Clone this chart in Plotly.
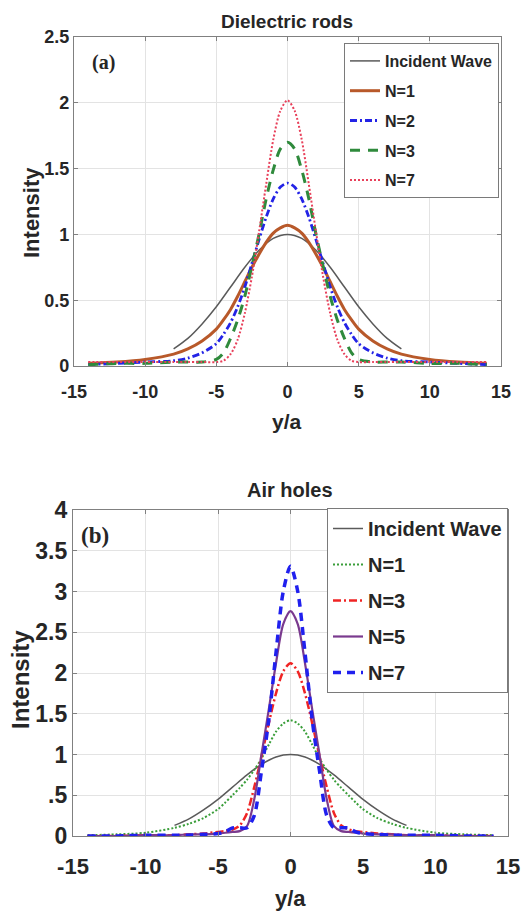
import plotly.graph_objects as go

# ---------------- data ----------------
x_inc = [-8, -7, -6, -5, -4, -3, -2, -1, 0, 1, 2, 3, 4, 5, 6, 7, 8]
inc = [0.13, 0.21, 0.32, 0.45, 0.60, 0.75, 0.88, 0.97, 1.00, 0.97, 0.88, 0.75, 0.60, 0.45, 0.32, 0.21, 0.13]

x_n = [-14, -12, -10, -8, -7, -6, -5, -4.5, -4, -3.5, -3, -2.5, -2, -1.5, -1, -0.5, 0,
       0.5, 1, 1.5, 2, 2.5, 3, 3.5, 4, 4.5, 5, 6, 7, 8, 10, 12, 14]

# (a) Dielectric rods
rod_n1 = [0.02, 0.03, 0.05, 0.09, 0.13, 0.19, 0.28, 0.35, 0.43, 0.53, 0.64, 0.75, 0.85, 0.94, 1.01, 1.05, 1.07,
          1.05, 1.01, 0.94, 0.85, 0.75, 0.64, 0.53, 0.43, 0.35, 0.28, 0.19, 0.13, 0.09, 0.05, 0.03, 0.02]
rod_n2 = [0.01, 0.02, 0.03, 0.04, 0.06, 0.10, 0.17, 0.24, 0.33, 0.45, 0.60, 0.78, 0.96, 1.13, 1.27, 1.36, 1.39,
          1.36, 1.27, 1.13, 0.96, 0.78, 0.60, 0.45, 0.33, 0.24, 0.17, 0.10, 0.06, 0.04, 0.03, 0.02, 0.01]
rod_n3 = [0.01, 0.02, 0.02, 0.03, 0.03, 0.03, 0.05, 0.10, 0.21, 0.35, 0.53, 0.76, 1.00, 1.27, 1.49, 1.65, 1.70,
          1.65, 1.49, 1.27, 1.00, 0.76, 0.53, 0.35, 0.21, 0.10, 0.05, 0.03, 0.03, 0.03, 0.02, 0.02, 0.01]
rod_n7 = [0.03, 0.03, 0.03, 0.03, 0.03, 0.03, 0.03, 0.04, 0.09, 0.20, 0.40, 0.68, 1.02, 1.38, 1.72, 1.94, 2.02,
          1.94, 1.72, 1.38, 1.02, 0.68, 0.40, 0.20, 0.09, 0.04, 0.03, 0.03, 0.03, 0.03, 0.03, 0.03, 0.03]

# (b) Air holes
hole_n1 = [0.01, 0.02, 0.04, 0.10, 0.15, 0.22, 0.33, 0.41, 0.50, 0.59, 0.69, 0.81, 0.95, 1.12, 1.28, 1.38, 1.42,
           1.38, 1.28, 1.12, 0.95, 0.81, 0.69, 0.59, 0.50, 0.41, 0.33, 0.22, 0.15, 0.10, 0.04, 0.02, 0.01]
hole_n3 = [0.00, 0.00, 0.01, 0.01, 0.02, 0.03, 0.05, 0.06, 0.08, 0.13, 0.28, 0.60, 0.98, 1.38, 1.75, 2.02, 2.12,
           2.02, 1.75, 1.38, 0.98, 0.60, 0.28, 0.13, 0.08, 0.06, 0.05, 0.03, 0.02, 0.01, 0.01, 0.00, 0.00]
hole_n5 = [0.00, 0.00, 0.01, 0.01, 0.02, 0.02, 0.03, 0.04, 0.05, 0.06, 0.12, 0.45, 1.00, 1.55, 2.12, 2.60, 2.76,
           2.60, 2.12, 1.55, 1.00, 0.45, 0.12, 0.06, 0.05, 0.04, 0.03, 0.02, 0.02, 0.01, 0.01, 0.00, 0.00]
hole_n7 = [0.00, 0.00, 0.01, 0.01, 0.01, 0.02, 0.03, 0.05, 0.10, 0.10, 0.10, 0.25, 0.80, 1.42, 2.25, 3.00, 3.31,
           3.00, 2.25, 1.42, 0.80, 0.25, 0.10, 0.10, 0.10, 0.05, 0.03, 0.02, 0.01, 0.01, 0.01, 0.00, 0.00]

x_ticks = [-15, -10, -5, 0, 5, 10, 15]
x_text = ["-15", "-10", "-5", "0", "5", "10", "15"]
y_ticks_a = [0, 0.5, 1, 1.5, 2, 2.5]
y_text_a = ["0", "0.5", "1", "1.5", "2", "2.5"]
y_ticks_b = [0, 0.5, 1, 1.5, 2, 2.5, 3, 3.5, 4]
y_text_b = ["0", ".5", "1", "1.5", "2", "2.5", "3", "3.5", "4"]

# ---------------- style ----------------
FONT = "Liberation Sans Narrow, Arial Narrow, Liberation Sans, Arial, sans-serif"
TXT = "#262626"
W, H = 528, 918

fig = go.Figure()

def add(x, y, name, color, width, dash, xa, ya, legend, group):
    fig.add_trace(go.Scatter(x=x, y=y, name=name, mode="lines", legendgroup=group,
                             line=dict(color=color, width=width, dash=dash, shape="spline", smoothing=0.8),
                             xaxis=xa, yaxis=ya, legend=legend))

add(x_inc, inc, "Incident Wave", "#5a5a5a", 1.5, "solid", "x", "y", "legend", "a0")
add(x_n, rod_n1, "N=1", "#b8592a", 3, "solid", "x", "y", "legend", "a1")
add(x_n, rod_n2, "N=2", "#2323e6", 2.8, "7px,3px,2px,3px", "x", "y", "legend", "a2")
add(x_n, rod_n3, "N=3", "#2f8a3c", 3, "10px,8px", "x", "y", "legend", "a3")
add(x_n, rod_n7, "N=7", "#e8405a", 2, "2px,2px", "x", "y", "legend", "a4")

add(x_inc, inc, "Incident Wave", "#5a5a5a", 1.5, "solid", "x2", "y2", "legend2", "b0")
add(x_n, hole_n1, "N=1", "#3a9e3a", 2, "2px,2px", "x2", "y2", "legend2", "b1")
add(x_n, hole_n3, "N=3", "#f02424", 2.5, "8px,3px,2px,3px", "x2", "y2", "legend2", "b2")
add(x_n, hole_n5, "N=5", "#7a3a8e", 2.2, "solid", "x2", "y2", "legend2", "b3")
add(x_n, hole_n7, "N=7", "#2020ee", 3.5, "8px,6px", "x2", "y2", "legend2", "b4")

def xax(domain, anchor, size, standoff):
    return dict(domain=domain, anchor=anchor, range=[-15, 15], tickvals=x_ticks, ticktext=x_text,
                showgrid=True, gridcolor="#e3e3e3", gridwidth=1, zeroline=False,
                showline=True, linecolor="#808080", linewidth=1.2, mirror="ticks",
                ticks="inside", ticklen=4, tickcolor="#808080", ticklabelstandoff=standoff,
                tickfont=dict(family=FONT, size=size, color=TXT, weight="bold"),
                automargin=False, fixedrange=True)

def yax(domain, anchor, rng, vals, text, size):
    return dict(domain=domain, anchor=anchor, range=rng, tickvals=vals, ticktext=text,
                showgrid=True, gridcolor="#e3e3e3", gridwidth=1, zeroline=False,
                showline=True, linecolor="#808080", linewidth=1.2, mirror="ticks",
                ticks="inside", ticklen=4, tickcolor="#808080",
                tickfont=dict(family=FONT, size=size, color=TXT, weight="bold"),
                automargin=False, fixedrange=True)

def px(v):
    return v / W

def py(v):
    return (H - v) / H

fig.update_layout(
    width=W, height=H,
    margin=dict(l=0, r=0, t=0, b=0),
    paper_bgcolor="white", plot_bgcolor="white",
    showlegend=True,
    xaxis=xax([px(74), px(501)], "y", 18, 9),
    yaxis=yax([py(366), py(37)], "x", [0, 2.5], y_ticks_a, y_text_a, 18),
    xaxis2=xax([px(73), px(508)], "y2", 22, 10),
    yaxis2=yax([py(836), py(510)], "x2", [0, 4], y_ticks_b, y_text_b, 23),
    legend=dict(x=px(499), y=py(43), xanchor="right", yanchor="top",
                bgcolor="white", bordercolor="#7a7a7a", borderwidth=1,
                font=dict(family=FONT, size=16, color=TXT, weight="bold"),
                itemwidth=30, tracegroupgap=6),
    legend2=dict(x=px(508), y=py(508), xanchor="right", yanchor="top",
                 bgcolor="white", bordercolor="#7a7a7a", borderwidth=1,
                 font=dict(family=FONT, size=20, color=TXT, weight="bold"),
                 itemwidth=30, tracegroupgap=7),
)

def ann(text, x, y, size, angle=0, family=FONT):
    fig.add_annotation(text=text, x=px(x), y=py(y), xref="paper", yref="paper",
                       xanchor="center", yanchor="middle", showarrow=False, textangle=angle,
                       font=dict(family=family, size=size, color=TXT, weight="bold"))

ann("Dielectric rods", 287, 22, 19)
ann("Intensity", 32, 213, 22, -90)
ann("y/a", 287, 422, 21)
ann("(a)", 103, 62, 20, family="Liberation Serif, Times New Roman, serif")

ann("Air holes", 290, 490, 20)
ann("Intensity", 20, 680, 24, -90)
ann("y/a", 290, 898, 22)
ann("(b)", 95, 535, 23, family="Liberation Serif, Times New Roman, serif")

fig.write_html("out.html")
